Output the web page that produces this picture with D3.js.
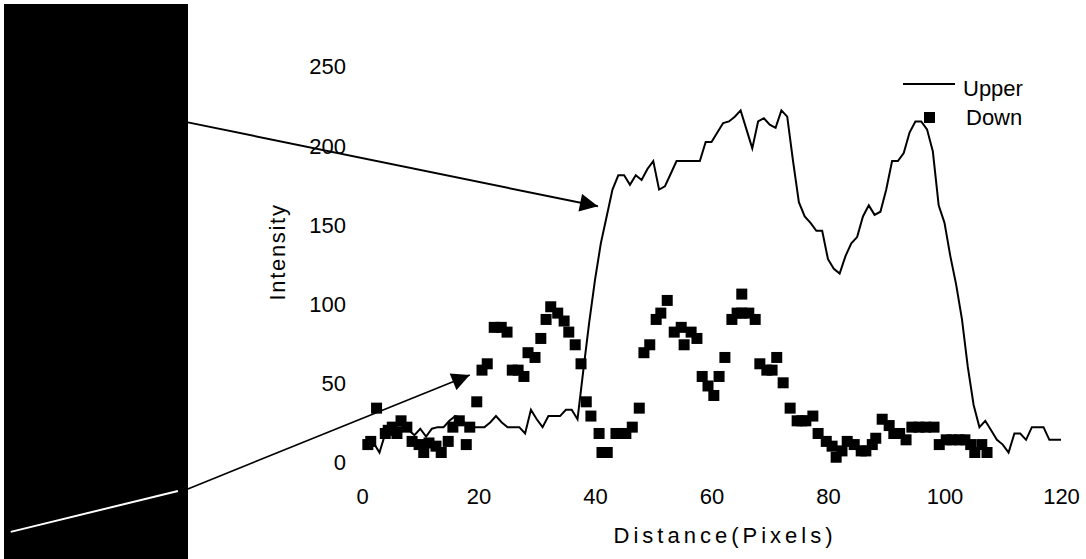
<!DOCTYPE html>
<html>
<head>
<meta charset="utf-8">
<script src="https://cdn.jsdelivr.net/npm/d3@7"></script>
<style>
  body { margin: 0; background: #fff; }
  text { font-family: "Liberation Sans", Arial, sans-serif; fill: #000; }
</style>
</head>
<body>
<svg width="1086" height="559"></svg>
<script>
// Upper : one value per pixel, x = 2..120
const upperStart = 2;
const upperValues = [
  12, 6, 18, 20, 22, 22, 20, 17, 21, 16,
  21, 22, 22, 26, 29, 28, 22, 22, 22, 22,
  25, 29, 25, 22, 22, 22, 18, 33, 27, 22,
  29, 29, 29, 33, 33, 27, 58, 88, 115, 138,
  155, 172, 181, 181, 175, 181, 178, 185, 190, 172,
  174, 182, 190, 190, 190, 190, 190, 202, 202, 208,
  214, 215, 218, 222, 210, 198, 215, 217, 213, 211,
  222, 218, 190, 164, 155, 151, 146, 146, 128, 122,
  119, 130, 138, 142, 155, 162, 156, 158, 172, 190,
  190, 195, 208, 215, 215, 210, 196, 162, 151, 130,
  112, 90, 60, 36, 22, 26, 20, 14, 11, 6,
  18, 18, 14, 22, 22, 22, 14, 14, 14
];

// Down : square markers
const downX = [
  1, 1.5, 2.5, 4, 4.5, 5.2, 6, 6.7, 7.7, 8.6,
  9.8, 10.6, 11.5, 12.7, 13.6, 14.8, 15.6, 16.7, 17.9, 18.5,
  19.7, 20.6, 21.5, 22.7, 23.9, 24.9, 25.8, 26.8, 27.8, 28.5,
  29.7, 30.7, 31.6, 32.4, 33.6, 34.7, 35.5, 36.6, 37.6, 38.5,
  39.3, 40.7, 41.2, 42.1, 43.6, 44.5, 45.3, 46.4, 47.6, 48.4,
  49.4, 50.5, 51.3, 52.4, 53.6, 54.8, 55.3, 56.5, 57.5, 58.4,
  59.4, 60.4, 61.3, 62.3, 63.5, 64.4, 65.2, 65.2, 66.4, 67.5,
  68.3, 69.5, 70.4, 71.2, 72.3, 73.5, 74.7, 75.5, 76.2, 77.4,
  78.3, 79.7, 80.7, 81.4, 82.4, 83.3, 84.5, 85.7, 86.5, 87.6,
  88.2, 89.3, 90.5, 91.3, 92.3, 93.4, 94.4, 95.6, 96.8, 98.2,
  99.1, 100.3, 101.3, 102.5, 103.5, 104.5, 105.2, 106.4, 107.3
];
const downY = [
  11, 13, 34, 18, 20, 22, 18, 26, 22, 13,
  11, 6, 12, 10, 6, 13, 22, 26, 11, 22,
  38, 58, 62, 85, 85, 82, 58, 58, 54, 69,
  66, 78, 90, 98, 94, 89, 82, 74, 62, 38,
  29, 18, 6, 6, 18, 18, 18, 22, 34, 69,
  74, 90, 94, 102, 82, 85, 74, 82, 78, 54,
  48, 42, 54, 66, 90, 94, 94, 106, 94, 90,
  62, 58, 58, 66, 50, 34, 26, 26, 26, 29,
  18, 13, 10, 3, 7, 13, 11, 7, 7, 11,
  15, 27, 23, 18, 18, 14, 22, 22, 22, 22,
  11, 14, 14, 14, 14, 11, 6, 11, 6
];

const xTicks = [0, 20, 40, 60, 80, 100, 120];
const yTicks = [0, 50, 100, 150, 200, 250];

// annotation arrows, in data units
const arrowUpper = [[-29.9, 214.4], [40.5, 161.4]];
const arrowDown = [[-29.9, -17], [18.5, 54.9]];
const whiteStroke = [[-60.3, -44.1], [-31.6, -18.3]];

const svg = d3.select("svg");
const x = d3.scaleLinear().domain([0, 120]).range([362, 1061]);
const y = d3.scaleLinear().domain([0, 250]).range([462, 66]);

// dark image panel on the left
svg.append("rect")
  .attr("x", 4).attr("y", 4)
  .attr("width", 184).attr("height", 555)
  .attr("fill", "#000");

// tick labels (no axis lines)
const yAxis = svg.append("g")
  .attr("transform", "translate(346,0)")
  .call(d3.axisLeft(y).tickValues(yTicks).tickSize(0).tickPadding(0));
yAxis.select(".domain").remove();
yAxis.selectAll("text")
  .style("font-size", "22px")
  .style("font-family", "'Liberation Sans', Arial, sans-serif")
  .attr("dy", "0.36em");

const xAxis = svg.append("g")
  .attr("transform", "translate(0,480)")
  .call(d3.axisBottom(x).tickValues(xTicks).tickSize(0).tickPadding(0));
xAxis.select(".domain").remove();
xAxis.selectAll("text")
  .style("font-size", "22px")
  .style("font-family", "'Liberation Sans', Arial, sans-serif")
  .attr("dy", "1.1em");

svg.append("text")
  .attr("x", 725).attr("y", 543)
  .attr("text-anchor", "middle")
  .style("font-size", "22px")
  .style("letter-spacing", "4px")
  .text("Distance(Pixels)");

svg.append("text")
  .attr("transform", "translate(285,252) rotate(-90)")
  .attr("text-anchor", "middle")
  .style("font-size", "22px")
  .style("letter-spacing", "1.7px")
  .text("Intensity");

// Upper line
const upperPts = upperValues.map((v, i) => [upperStart + i, v]);
svg.append("path")
  .datum(upperPts)
  .attr("fill", "none")
  .attr("stroke", "#000")
  .attr("stroke-width", 2)
  .attr("stroke-linejoin", "miter")
  .attr("d", d3.line().x(d => x(d[0])).y(d => y(d[1])));

// Down squares
const sq = 11;
svg.append("g").selectAll("rect")
  .data(downX.map((v, i) => [v, downY[i]]))
  .enter()
  .append("rect")
  .attr("x", d => x(d[0]) - sq / 2)
  .attr("y", d => y(d[1]) - sq / 2)
  .attr("width", sq).attr("height", sq)
  .attr("fill", "#000");

// arrows
svg.append("defs").append("marker")
  .attr("id", "head")
  .attr("viewBox", "0 0 10 10")
  .attr("refX", 10).attr("refY", 5)
  .attr("markerWidth", 10).attr("markerHeight", 9)
  .attr("markerUnits", "userSpaceOnUse")
  .attr("orient", "auto")
  .append("path").attr("d", "M0,0L10,5L0,10Z").attr("fill", "#000");

function arrow(pts, w, size) {
  svg.append("line")
    .attr("x1", x(pts[0][0])).attr("y1", y(pts[0][1]))
    .attr("x2", x(pts[1][0])).attr("y2", y(pts[1][1]))
    .attr("stroke", "#000").attr("stroke-width", w)
    .attr("marker-end", "url(#head)");
}
arrow(arrowUpper, 2);
arrow(arrowDown, 1.6);
d3.select("#head").attr("markerWidth", 20).attr("markerHeight", 18);

svg.append("line")
  .attr("x1", x(whiteStroke[0][0])).attr("y1", y(whiteStroke[0][1]))
  .attr("x2", x(whiteStroke[1][0])).attr("y2", y(whiteStroke[1][1]))
  .attr("stroke", "#fff").attr("stroke-width", 2);

// legend
const lg = svg.append("g");
lg.append("line")
  .attr("x1", 903).attr("x2", 955).attr("y1", 84).attr("y2", 84)
  .attr("stroke", "#000").attr("stroke-width", 2);
lg.append("text").attr("x", 963).attr("y", 96)
  .style("font-size", "22px").text("Upper");
lg.append("rect").attr("x", 924).attr("y", 112)
  .attr("width", sq).attr("height", sq).attr("fill", "#000");
lg.append("text").attr("x", 966).attr("y", 125)
  .style("font-size", "22px").text("Down");
</script>
</body>
</html>
